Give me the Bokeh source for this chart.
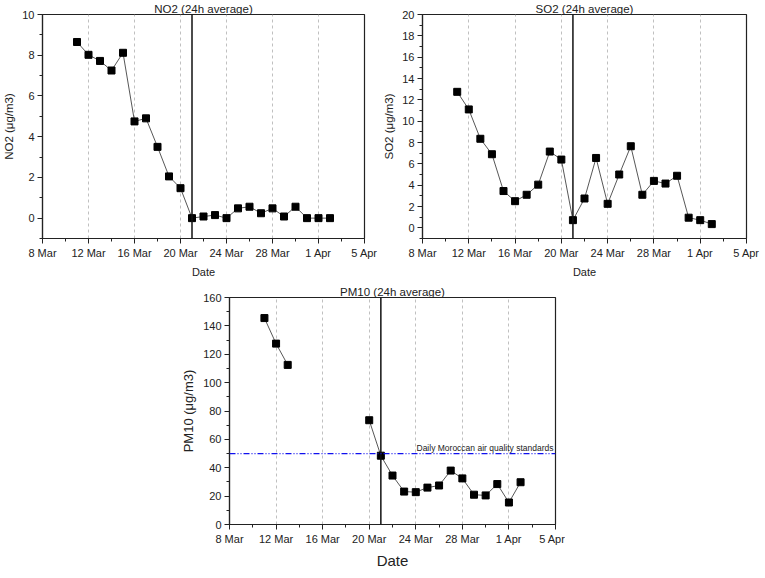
import math
from datetime import datetime, timezone
from bokeh.plotting import figure
from bokeh.models import FixedTicker, Span, Label, Range1d, Spacer, ColumnDataSource
from bokeh.layouts import column, row
from bokeh.embed import file_html
from bokeh.resources import INLINE

# ---------------- data ----------------
dates = ["2020-03-11", "2020-03-12", "2020-03-13", "2020-03-14", "2020-03-15",
         "2020-03-16", "2020-03-17", "2020-03-18", "2020-03-19", "2020-03-20",
         "2020-03-21", "2020-03-22", "2020-03-23", "2020-03-24", "2020-03-25",
         "2020-03-26", "2020-03-27", "2020-03-28", "2020-03-29", "2020-03-30",
         "2020-03-31", "2020-04-01", "2020-04-02"]

no2 = [8.65, 8.02, 7.72, 7.25, 8.12, 4.75, 4.90, 3.50, 2.05, 1.47,
       0.00, 0.08, 0.15, 0.00, 0.48, 0.56, 0.24, 0.48, 0.08, 0.56,
       0.00, 0.00, 0.00]

so2 = [12.75, 11.10, 8.35, 6.90, 3.45, 2.50, 3.10, 4.05, 7.15, 6.40,
       0.72, 2.75, 6.55, 2.25, 5.00, 7.65, 3.10, 4.40, 4.15, 4.88,
       0.95, 0.72, 0.35]

nan = float("nan")
pm10 = [145.5, 127.5, 112.5, nan, nan, nan, nan, nan, nan, 73.5,
        48.5, 34.5, 23.2, 22.8, 26.0, 27.5, 38.0, 32.5, 21.0, 20.5,
        28.5, 15.5, 29.8]

tick_dates = ["2020-03-08", "2020-03-12", "2020-03-16", "2020-03-20",
              "2020-03-24", "2020-03-28", "2020-04-01", "2020-04-05"]
tick_labels = ["8 Mar", "12 Mar", "16 Mar", "20 Mar", "24 Mar", "28 Mar",
               "1 Apr", "5 Apr"]
minor_dates = ["2020-03-10", "2020-03-14", "2020-03-18", "2020-03-22",
               "2020-03-26", "2020-03-30", "2020-04-03"]

lockdown_date = "2020-03-21"
pm10_standard = 50
pm10_standard_label = "Daily Moroccan air quality standards"

FONT = "Liberation Sans"


def ms(d):
    dt = datetime.strptime(d, "%Y-%m-%d").replace(tzinfo=timezone.utc)
    return dt.timestamp() * 1000.0


x = [ms(d) for d in dates]
xt = [ms(d) for d in tick_dates]
xm = [ms(d) for d in minor_dates]


def make(title, ylabel, yvals, ystart, yend, yticks, yminor, fw, fh,
         title_offset, xlab_size="11px", ylab_size="11.5px",
         min_left=0, min_right=14):
    p = figure(x_axis_type="datetime", output_backend="svg",
               toolbar_location=None, frame_width=fw, frame_height=fh,
               x_range=Range1d(xt[0], xt[-1]), y_range=Range1d(ystart, yend),
               min_border_left=min_left, min_border_right=min_right,
               min_border_top=0, min_border_bottom=0)
    p.background_fill_color = "white"
    p.border_fill_color = "white"
    p.outline_line_color = "#222222"
    p.outline_line_width = 1.2

    p.title.text = title
    p.title.align = "center"
    p.title.text_font = FONT
    p.title.text_font_style = "normal"
    p.title.text_font_size = "11.5px"
    p.title.text_color = "#222222"
    p.title.standoff = 0
    p.title.offset = title_offset

    tick = FixedTicker(ticks=xt, minor_ticks=xm)
    p.xaxis.ticker = tick
    p.xaxis.major_label_overrides = {t: l for t, l in zip(xt, tick_labels)}
    p.xgrid.ticker = tick
    p.xgrid.grid_line_color = "#c0c0c0"
    p.xgrid.grid_line_dash = "3 3"
    p.xgrid.grid_line_width = 1
    p.ygrid.visible = False

    p.yaxis.ticker = FixedTicker(ticks=yticks, minor_ticks=yminor)

    for ax in (p.xaxis, p.yaxis):
        ax.axis_line_color = "#222222"
        ax.axis_line_width = 1.2
        ax.major_tick_line_color = "#222222"
        ax.minor_tick_line_color = "#222222"
        ax.major_tick_in = 0
        ax.major_tick_out = 5
        ax.minor_tick_in = 0
        ax.minor_tick_out = 3
        ax.major_label_text_font = FONT
        ax.major_label_text_font_size = "11px"
        ax.major_label_text_color = "#222222"
        ax.major_label_standoff = 3
        ax.axis_label_text_font = FONT
        ax.axis_label_text_font_style = "normal"
        ax.axis_label_text_color = "#222222"
        ax.axis_label_standoff = 4

    p.xaxis.axis_label = "Date"
    p.xaxis.axis_label_text_font_size = xlab_size
    p.yaxis.axis_label = ylabel
    p.yaxis.axis_label_text_font_size = ylab_size

    src = ColumnDataSource(dict(x=x, y=yvals))
    p.line("x", "y", source=src, line_color="#444444", line_width=0.9)
    p.scatter("x", "y", source=src, marker="square", size=7,
              fill_color="black", line_color="black")

    p.add_layout(Span(location=ms(lockdown_date), dimension="height",
                      line_color="#111111", line_width=1.5))
    return p


p1 = make("NO2 (24h average)", "NO2 (μg/m3)", no2, -1, 10,
          [0, 2, 4, 6, 8, 10], [-1, 1, 3, 5, 7, 9], 322, 224, -18,
          min_right=16)
p2 = make("SO2 (24h average)", "SO2 (μg/m3)", so2, -1, 20,
          list(range(0, 21, 2)), list(range(-1, 20, 2)), 324, 224, -20,
          min_right=14)
p3 = make("PM10 (24h average)", "PM10 (μg/m3)", pm10, 0, 160,
          list(range(0, 161, 20)), list(range(10, 160, 20)), 326, 227, -15,
          xlab_size="15px", ylab_size="13px", min_right=10)

p3.add_layout(Span(location=pm10_standard, dimension="width",
                   line_color="#1010ee", line_width=1.2,
                   line_dash="6 2 1 2 1 2"))
p3.add_layout(Label(x=xt[-1], y=pm10_standard, text=pm10_standard_label,
                    text_align="right", text_baseline="bottom",
                    x_offset=-2, y_offset=1, text_font=FONT,
                    text_font_size="8.5px", text_color="#222222"))

layout = column(row(p1, p2), Spacer(height=3), row(Spacer(width=178), p3))

open("out.html", "w").write(file_html(layout, INLINE))
